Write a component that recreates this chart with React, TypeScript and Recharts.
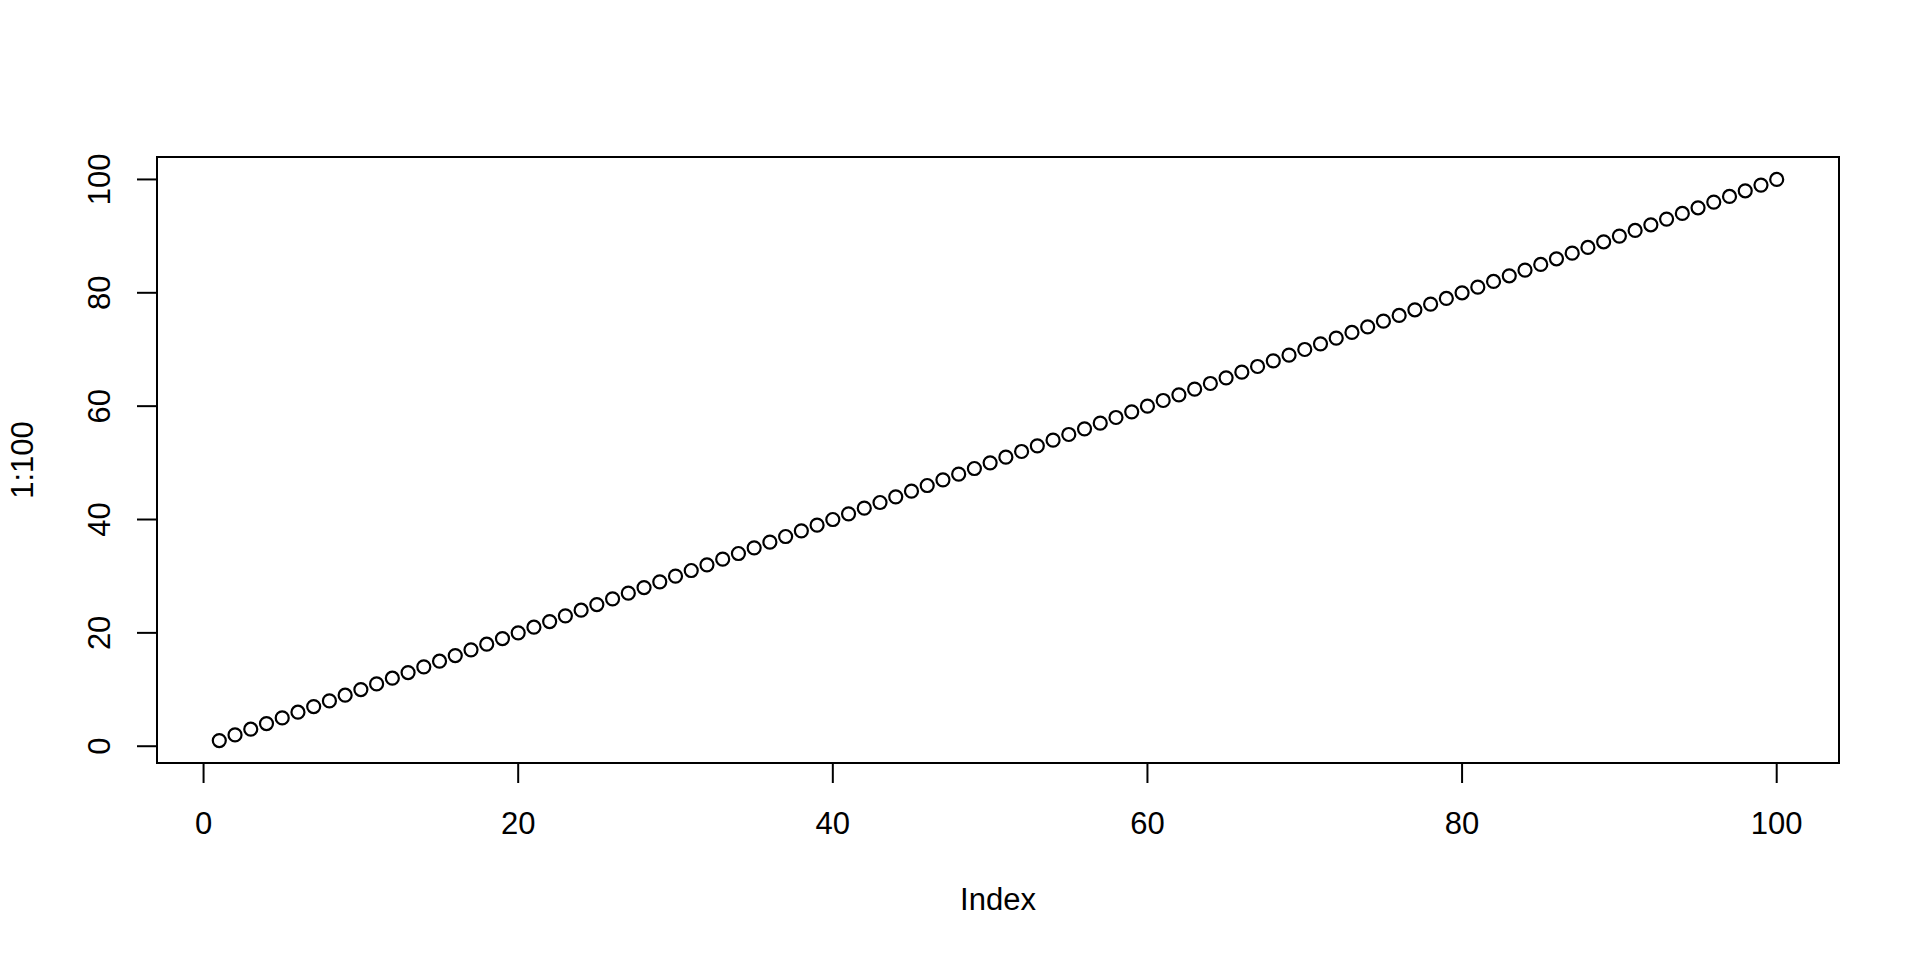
import React from 'react';
import { ScatterChart, Scatter, XAxis, YAxis, ReferenceArea } from 'recharts';

const indexValues = [
  1, 2, 3, 4, 5, 6, 7, 8, 9, 10, 11, 12, 13, 14, 15, 16, 17, 18, 19, 20,
  21, 22, 23, 24, 25, 26, 27, 28, 29, 30, 31, 32, 33, 34, 35, 36, 37, 38, 39, 40,
  41, 42, 43, 44, 45, 46, 47, 48, 49, 50, 51, 52, 53, 54, 55, 56, 57, 58, 59, 60,
  61, 62, 63, 64, 65, 66, 67, 68, 69, 70, 71, 72, 73, 74, 75, 76, 77, 78, 79, 80,
  81, 82, 83, 84, 85, 86, 87, 88, 89, 90, 91, 92, 93, 94, 95, 96, 97, 98, 99, 100,
];
const seriesValues = [
  1, 2, 3, 4, 5, 6, 7, 8, 9, 10, 11, 12, 13, 14, 15, 16, 17, 18, 19, 20,
  21, 22, 23, 24, 25, 26, 27, 28, 29, 30, 31, 32, 33, 34, 35, 36, 37, 38, 39, 40,
  41, 42, 43, 44, 45, 46, 47, 48, 49, 50, 51, 52, 53, 54, 55, 56, 57, 58, 59, 60,
  61, 62, 63, 64, 65, 66, 67, 68, 69, 70, 71, 72, 73, 74, 75, 76, 77, 78, 79, 80,
  81, 82, 83, 84, 85, 86, 87, 88, 89, 90, 91, 92, 93, 94, 95, 96, 97, 98, 99, 100,
];
const xTicks = [0, 20, 40, 60, 80, 100];
const yTicks = [0, 20, 40, 60, 80, 100];
const xDomain: [number, number] = [-2.96, 103.96];
const yDomain: [number, number] = [-2.96, 103.96];

const data = indexValues.map((x, i) => ({ x, y: seriesValues[i] }));

const FONT = 'Liberation Sans, Arial, Helvetica, sans-serif';
const FS = 31;

const XTick = (props: any) => {
  const { x, y, payload } = props;
  return (
    <text x={x} y={y + 40} textAnchor="middle" dominantBaseline="central" fontFamily={FONT} fontSize={FS} fill="#000">
      {payload.value}
    </text>
  );
};

const YTick = (props: any) => {
  const { x, y, payload } = props;
  const cx = x - 37;
  return (
    <text x={cx} y={y} transform={`rotate(-90, ${cx}, ${y})`} textAnchor="middle" dominantBaseline="central" fontFamily={FONT} fontSize={FS} fill="#000">
      {payload.value}
    </text>
  );
};

const Dot = (props: any) => {
  const { cx, cy } = props;
  return <circle cx={cx} cy={cy} r={6.5} fill="none" stroke="#000" strokeWidth={2.2} />;
};

export default function App() {
  return (
    <div style={{ marginLeft: -8, marginTop: -8, width: 1920, height: 960, background: '#fff' }}>
      <ScatterChart width={1920} height={960} margin={{ top: 157, right: 81, bottom: 137, left: 97 }}>
        <XAxis
          type="number"
          dataKey="x"
          domain={xDomain}
          ticks={xTicks}
          allowDataOverflow
          axisLine={false}
          tickLine={{ stroke: '#000', strokeWidth: 2 }}
          tickSize={20}
          tickMargin={0}
          height={60}
          tick={<XTick />}
          label={{
            content: (p: any) => {
              const vb = p.viewBox;
              return (
                <text x={vb.x + vb.width / 2} y={vb.y + 136} textAnchor="middle" dominantBaseline="central" fontFamily={FONT} fontSize={FS} fill="#000">
                  Index
                </text>
              );
            },
          }}
        />
        <YAxis
          type="number"
          dataKey="y"
          domain={yDomain}
          ticks={yTicks}
          allowDataOverflow
          axisLine={false}
          tickLine={{ stroke: '#000', strokeWidth: 2 }}
          tickSize={20}
          tickMargin={0}
          width={60}
          tick={<YTick />}
          label={{
            content: (p: any) => {
              const vb = p.viewBox;
              const cx = vb.x - 75;
              const cy = vb.y + vb.height / 2;
              return (
                <text x={cx} y={cy} transform={`rotate(-90, ${cx}, ${cy})`} textAnchor="middle" dominantBaseline="central" fontFamily={FONT} fontSize={FS} fill="#000">
                  1:100
                </text>
              );
            },
          }}
        />
        <ReferenceArea x1={xDomain[0]} x2={xDomain[1]} y1={yDomain[0]} y2={yDomain[1]} fill="none" stroke="#000" strokeWidth={2} ifOverflow="visible" />
        <Scatter data={data} shape={<Dot />} isAnimationActive={false} />
      </ScatterChart>
    </div>
  );
}
